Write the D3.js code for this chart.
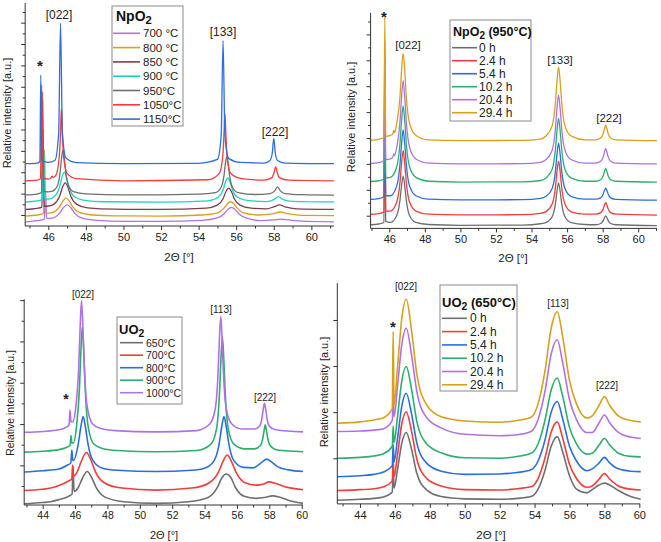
<!DOCTYPE html>
<html><head><meta charset="utf-8">
<script src="https://cdn.jsdelivr.net/npm/d3@7"></script>
<style>body{margin:0;background:#fff}svg{display:block;font-family:Arial,"Liberation Sans",sans-serif}</style>
</head><body><svg id="c" width="661" height="542"></svg>
<script>
// ---------- DATA ----------
const npTicks = [46,48,50,52,54,56,58,60];
const uoTicks = [44,46,48,50,52,54,56,58,60];
const npPeakNames = ["*","[022]","[133]","[222]"];
const uoPeakNames = ["*","[022]","[113]","[222]"];

const npTempLabels = ["700 °C","800 °C","850 °C","900 °C","950°C","1050°C","1150°C"];
const npTimeLabels = ["0 h","2.4 h","5.4 h","10.2 h","20.4 h","29.4 h"];
const uoTempLabels = ["650°C","700°C","800°C","900°C","1000°C"];
const uoTimeLabels = ["0 h","2.4 h","5.4 h","10.2 h","20.4 h","29.4 h"];

// NpO2, temperature series [2theta, intensity]
const npT700 = [[44.8,-3.2],[45.4,-2.6],[45.79,-2],[45.85,12],[45.91,-1.6],[46.2,-1.5],[46.6,0.85],[46.8,3.4],[47.0,4.7],[47.2,3.4],[47.4,0.85],[47.8,-1.5],[48.6,-2.55],[50,-3],[52,-3],[54.2,-2.5],[54.95,-1.5],[55.35,0.5],[55.55,2.5],[55.75,3.6],[55.95,2.5],[56.15,0.5],[56.55,-1.5],[57.3,-2.6],[58.0,-2.3],[58.4,-1.9],[58.8,-2.3],[59.5,-2.9],[61.2,-3.2]];
const npT800 = [[44.8,-0.5],[45.4,0],[45.74,0.6],[45.8,30.4],[45.86,1],[46.0,0.9],[46.25,1.2],[46.6,3.75],[46.78,6.5],[46.95,8],[47.12,6.5],[47.3,3.75],[47.65,1.2],[48.35,0],[49.5,-0.4],[52,-0.5],[54.2,0],[55.0,1],[55.35,3.2],[55.53,5.3],[55.7,6.2],[55.87,5.3],[56.05,3.2],[56.4,1],[57.2,0],[57.9,0.5],[58.35,1.4],[58.8,0.5],[59.5,-0.2],[61.2,-0.3]];
const npT850 = [[44.8,2.6],[45.4,3.1],[45.66,3.7],[45.72,40],[45.78,4.1],[46.0,4.2],[46.3,5.1],[46.6,8.8],[46.75,12.9],[46.9,15],[47.05,12.9],[47.2,8.8],[47.5,5.1],[48.1,3.3],[49.5,2.7],[52,2.6],[54.4,3.2],[55.0,4.6],[55.3,7.6],[55.45,10.9],[55.6,12.6],[55.75,10.9],[55.9,7.6],[56.2,4.6],[56.8,3.2],[57.6,2.9],[58.0,3.8],[58.3,4.7],[58.6,3.8],[59.2,2.9],[61.2,2.6]];
const npT900 = [[44.8,6.1],[45.4,6.6],[45.69,7.2],[45.75,32.8],[45.81,7.6],[46.0,7.4],[46.35,8.9],[46.6,13.1],[46.73,17.7],[46.85,20.1],[46.97,17.7],[47.1,13.1],[47.35,8.9],[47.85,7],[49,6.2],[52,6],[54.5,6.6],[55.05,8.4],[55.3,11.7],[55.43,15.4],[55.55,17.3],[55.67,15.4],[55.8,11.7],[56.05,8.4],[56.6,6.8],[57.6,6.3],[58.0,7.2],[58.25,8.6],[58.5,7.2],[59,6.4],[61.2,6.1]];
const npT950 = [[44.8,9.4],[45.4,9.8],[45.64,10.5],[45.7,57.6],[45.76,11],[46.0,10.8],[46.18,11],[46.48,13.6],[46.63,19.9],[46.71,26.8],[46.78,30.4],[46.85,26.8],[46.93,19.9],[47.08,13.6],[47.38,10.8],[48,9.9],[50,9.4],[54,9.8],[54.9,10.5],[55.2,13],[55.35,18.4],[55.43,24.3],[55.5,27.3],[55.57,24.3],[55.65,18.4],[55.8,13],[56.1,10.5],[57,9.6],[57.8,10],[58.05,11.3],[58.2,13.2],[58.35,11.3],[58.6,10],[59.5,9.5],[61.2,9.3]];
const npT1050 = [[44.8,16],[45.4,16.3],[45.58,17],[45.65,60.8],[45.72,17.5],[46.0,16.8],[46.15,17.5],[46.2,18.2],[46.25,17.5],[46.4,18.5],[46.58,27],[46.64,36],[46.7,50.1],[46.76,36],[46.82,27],[47.0,19.5],[47.5,17],[50,16],[54.5,16.5],[55.1,19.5],[55.28,27],[55.34,36],[55.4,47.7],[55.46,36],[55.52,27],[55.7,19.5],[56.3,17],[57.5,16.3],[57.9,17.5],[58.02,20],[58.1,22.6],[58.18,20],[58.3,17.5],[58.8,16.3],[61.2,16]];
const npT1150 = [[44.8,24],[45.4,24.3],[45.55,25],[45.6,65.5],[45.65,25.5],[46.0,24.6],[46.35,25.5],[46.55,38],[46.65,89.8],[46.75,38],[46.95,26.5],[47.5,24.5],[50,24],[54,24.2],[55.0,26],[55.2,37],[55.3,81.6],[55.4,37],[55.6,26.5],[56.2,24.6],[57.5,24.3],[57.8,25.5],[57.92,29],[58.0,35.9],[58.08,29],[58.2,25.5],[58.6,24.3],[61.2,24]];

// NpO2 (950°C), annealing-time series
const npH0 = [[44.95,-3.5],[45.4,-3.2],[45.7,-2.6],[45.75,43.3],[45.8,-2.2],[46.06,-2.6],[46.42,0.1],[46.6,5.8],[46.69,11.5],[46.78,15.3],[46.87,11.5],[46.96,5.8],[47.14,0.1],[47.5,-2.6],[48.2,-3.4],[50,-3.7],[53.5,-3.6],[54.5,-3.1],[54.8,-2.7],[55.16,-0.4],[55.34,4.5],[55.43,9.4],[55.52,12.7],[55.61,9.4],[55.7,4.5],[55.88,-0.4],[56.24,-2.7],[57,-3.4],[57.6,-3.5],[57.89,-3],[58.03,-1.9],[58.1,-0.8],[58.17,-0.1],[58.24,-0.8],[58.31,-1.9],[58.45,-3],[58.75,-3.5],[61.05,-3.8]];
const npH24 = [[44.95,0.5],[45.4,0.8],[45.7,1.4],[45.75,47.3],[45.8,1.8],[46.06,1.8],[46.42,5.3],[46.6,12.7],[46.69,20.1],[46.78,25.1],[46.87,20.1],[46.96,12.7],[47.14,5.3],[47.5,1.8],[48.2,0.6],[50,0.3],[53.5,0.4],[54.5,0.9],[54.8,1.5],[55.16,4.5],[55.34,10.7],[55.43,16.9],[55.52,21.1],[55.61,16.9],[55.7,10.7],[55.88,4.5],[56.24,1.5],[57,0.6],[57.6,0.6],[57.89,1.2],[58.03,2.6],[58.1,4],[58.17,5],[58.24,4],[58.31,2.6],[58.45,1.2],[58.75,0.6],[61.05,0.2]];
const npH54 = [[44.95,6.3],[45.4,6.6],[45.7,7.3],[45.75,53.1],[45.8,7.7],[46.06,7.7],[46.42,11.5],[46.6,19.6],[46.69,27.7],[46.78,33.1],[46.87,27.7],[46.96,19.6],[47.14,11.5],[47.5,7.7],[48.2,6.4],[50,6.1],[53.5,6.2],[54.5,6.7],[54.8,7.4],[55.16,10.5],[55.34,17],[55.43,23.6],[55.52,28],[55.61,23.6],[55.7,17],[55.88,10.5],[56.24,7.4],[57,6.4],[57.6,6.4],[57.89,6.9],[58.03,8.3],[58.1,9.7],[58.17,10.6],[58.24,9.7],[58.31,8.3],[58.45,6.9],[58.75,6.3],[61.05,6]];
const npH102 = [[44.95,13.2],[45.4,13.5],[45.7,14.2],[45.75,60],[45.8,14.6],[46.06,14.8],[46.42,18.9],[46.6,27.7],[46.69,36.5],[46.78,42.4],[46.87,36.5],[46.96,27.7],[47.14,18.9],[47.5,14.8],[48.2,13.3],[50,13],[53.5,13.1],[54.5,13.6],[54.8,14.5],[55.16,17.9],[55.34,25.3],[55.43,32.7],[55.52,37.6],[55.61,32.7],[55.7,25.3],[55.88,17.9],[56.24,14.5],[57,13.3],[57.6,13.3],[57.89,13.9],[58.03,15.4],[58.1,17],[58.17,18.3],[58.24,17],[58.31,15.4],[58.45,13.9],[58.75,13.3],[61.05,13]];
const npH204 = [[44.95,20.2],[45.4,20.5],[45.7,21.2],[45.75,67],[45.8,21.6],[46.06,21.9],[46.2,22.5],[46.25,24],[46.3,23.2],[46.42,26.4],[46.6,36],[46.69,45.7],[46.78,52.1],[46.87,45.7],[46.96,36],[47.14,26.4],[47.5,21.9],[48.2,20.3],[50,20],[53.5,20.1],[54.5,20.6],[54.8,21.6],[55.16,25.3],[55.34,33.3],[55.43,41.2],[55.52,46.5],[55.61,41.2],[55.7,33.3],[55.88,25.3],[56.24,21.6],[57,20.3],[57.6,20.3],[57.89,21],[58.03,22.7],[58.1,24.5],[58.17,26],[58.24,24.5],[58.31,22.7],[58.45,21],[58.75,20.3],[61.05,20]];
const npH294 = [[44.95,29.2],[45.4,29.5],[45.7,30.2],[45.75,76.8],[45.8,30.6],[46.06,31],[46.2,31.5],[46.25,33],[46.3,32],[46.42,35.7],[46.6,45.7],[46.69,56],[46.78,62.7],[46.87,56],[46.96,45.7],[47.14,35.7],[47.5,31],[48.2,29.3],[50,29],[53.5,29.1],[54.5,29.6],[54.8,30.7],[55.16,34.7],[55.34,43.3],[55.43,51.8],[55.52,57.5],[55.61,51.8],[55.7,43.3],[55.88,34.7],[56.24,30.7],[57,29.3],[57.6,29.3],[57.89,30],[58.03,31.7],[58.1,33.5],[58.17,35],[58.24,33.5],[58.31,31.7],[58.45,30],[58.75,29.3],[61.05,29]];

// UO2, temperature series
const uoT650 = [[42.86,-9.3],[44,-9],[44.5,-8.8],[45.0,-8.3],[45.6,-7.5],[45.82,-6.9],[45.88,-0.3],[45.94,-6.3],[46.2,-5.35],[46.47,-3],[46.75,-1.5],[47.03,-3],[47.3,-5.35],[47.85,-7.7],[49,-8.8],[51,-9.2],[53,-8.8],[54.25,-7.7],[54.8,-5.3],[55.07,-3],[55.35,-2.1],[55.63,-3],[55.9,-5.3],[56.45,-7.5],[57.2,-8],[57.7,-7.8],[58.2,-7.4],[58.7,-7.8],[59.4,-8.7],[60.08,-9.2]];
const uoT700 = [[42.86,-6.1],[44,-5.8],[44.5,-5.5],[45.0,-4.9],[45.6,-3.8],[45.8,-3.3],[45.85,0.1],[45.9,-2.6],[46.15,-1.45],[46.42,1.3],[46.7,3.1],[46.98,1.3],[47.25,-1.45],[47.8,-4.2],[48.9,-5.5],[51,-6],[53.2,-5.5],[54.3,-4.2],[54.85,-1.7],[55.12,0.8],[55.4,2.5],[55.68,0.8],[55.95,-1.7],[56.5,-4.2],[57.2,-4.8],[57.6,-4.6],[58.0,-4],[58.4,-4.4],[59.2,-5.4],[60.08,-5.9]];
const uoT800 = [[42.86,-1.6],[44,-1.3],[45,-0.9],[45.5,0],[45.74,0.6],[45.8,3.7],[45.86,1.2],[45.9,1.2],[46.2,5.2],[46.35,9.1],[46.5,11.8],[46.65,9.1],[46.8,5.2],[47.1,1.2],[47.7,-0.7],[48.6,-1.2],[51,-1.5],[53.2,-1.2],[54,-0.7],[54.6,1.2],[54.9,5.2],[55.05,9.1],[55.2,11.8],[55.35,9.1],[55.5,5.2],[55.8,1.2],[56.4,-0.5],[57,-0.6],[57.3,0],[57.55,0.8],[57.85,1.5],[58.15,0.8],[58.5,-0.3],[59.2,-1.1],[60.08,-1.5]];
const uoT900 = [[42.86,3.2],[44,3.4],[45,3.8],[45.5,4.4],[45.69,4.8],[45.75,7.2],[45.81,5.4],[45.9,5.4],[46.09,9.4],[46.27,18.5],[46.36,27.5],[46.45,33.6],[46.54,27.5],[46.63,18.5],[46.81,9.4],[47.17,5.1],[47.7,4.1],[48.6,3.6],[51,3.3],[53.5,3.6],[54.38,5.1],[54.74,8.9],[54.92,17.2],[55.01,25.5],[55.1,31.1],[55.19,25.5],[55.28,17.2],[55.46,8.9],[55.82,5.1],[56.5,4],[57.1,4],[57.45,4.8],[57.6,6.6],[57.68,8.5],[57.75,9.8],[57.82,8.5],[57.9,6.6],[58.05,4.8],[58.5,3.7],[60.08,3.3]];
const uoT1000 = [[42.86,8],[44,8.2],[45,8.6],[45.5,9.3],[45.63,9.8],[45.69,13.4],[45.75,10.5],[45.85,10.5],[46.06,14.5],[46.23,24],[46.315,33.5],[46.4,39.9],[46.485,33.5],[46.57,24],[46.74,14.5],[47.08,10],[47.6,8.9],[48.5,8.4],[51,8.1],[53.5,8.4],[54.32,10],[54.66,13.7],[54.83,22],[54.915,30.4],[55.0,36],[55.085,30.4],[55.17,22],[55.34,13.7],[55.68,10],[56.3,8.8],[57.1,8.8],[57.4,9.5],[57.55,11.5],[57.625,13.6],[57.7,15],[57.775,13.6],[57.85,11.5],[58.0,9.5],[58.4,8.6],[60.08,8.1]];

// UO2 (650°C), annealing-time series
const uoH0 = [[42.7,-9.1],[44,-8.9],[44.8,-8.7],[45.35,-8.4],[45.85,-7.3],[45.9,-2],[45.95,-6.5],[46.15,-2.4],[46.4,3.4],[46.65,5.6],[46.95,2],[47.25,-3.2],[47.8,-6.8],[48.65,-8.3],[50,-8.8],[52,-8.9],[53,-8.7],[53.8,-8.3],[54.2,-6.7],[54.6,-2.6],[54.95,2.6],[55.3,4.7],[55.6,1.5],[56.0,-3.8],[56.4,-6.7],[57.0,-7.5],[57.3,-6.8],[57.7,-5.8],[58.0,-5.4],[58.3,-5.8],[58.8,-7],[59.5,-8.3],[60.08,-8.9]];
const uoH24 = [[42.7,-7],[44,-6.8],[44.8,-6.6],[45.35,-6.2],[45.85,-4.9],[45.9,-0.5],[45.95,-4],[46.15,0.8],[46.4,7.6],[46.65,10.1],[46.95,5.9],[47.25,-0.1],[47.8,-4.3],[48.65,-6],[50,-6.8],[52,-6.9],[53,-6.6],[53.8,-6.2],[54.2,-4.4],[54.6,0.1],[54.95,5.7],[55.3,7.9],[55.6,4.5],[56.0,-1.3],[56.4,-4.4],[57.0,-6.3],[57.3,-6],[57.7,-4.5],[58.0,-3.3],[58.3,-4.5],[58.8,-6],[59.5,-6.7],[60.08,-6.9]];
const uoH54 = [[42.7,-4],[44,-3.8],[44.8,-3.5],[45.35,-3],[45.85,-1.6],[45.9,3],[45.95,-0.8],[46.15,4.3],[46.4,11.4],[46.65,14.1],[46.95,9.7],[47.25,3.4],[47.8,-1],[48.65,-2.8],[50,-3.5],[52,-3.4],[53,-3.1],[53.8,-2.5],[54.2,-0.6],[54.6,4],[54.95,10],[55.3,12.3],[55.6,8.7],[56.0,2.6],[56.4,-0.6],[57.0,-2.7],[57.3,-2.3],[57.7,-1],[58.0,0.2],[58.3,-1],[58.8,-2.3],[59.5,-2.8],[60.08,-2.9]];
const uoH102 = [[42.7,0],[44,0.2],[44.8,0.5],[45.35,1],[45.85,2.6],[45.9,7],[45.95,3.4],[46.15,9.1],[46.4,16.9],[46.65,19.9],[46.95,15],[47.25,8.1],[47.8,3.2],[48.65,1.2],[50,0.1],[52,0],[53,0.4],[53.8,1.1],[54.2,3.1],[54.6,8.3],[54.95,14.8],[55.3,17.4],[55.6,13.6],[56.0,6.7],[56.4,3.1],[57.0,0.9],[57.3,1.1],[57.7,2.9],[58.0,4.3],[58.3,2.9],[58.8,1.1],[59.5,0.4],[60.08,0.3]];
const uoH204 = [[42.7,5.8],[44,5.9],[44.8,6.1],[45.35,6.4],[45.85,8.2],[45.9,13],[45.95,9],[46.15,15.7],[46.4,24.8],[46.65,28.2],[46.95,22.5],[47.25,14.6],[47.8,8.9],[48.65,6.6],[50,5.2],[52,4.9],[53,5.1],[53.8,5.8],[54.2,8.4],[54.6,14.6],[54.95,22.6],[55.3,25.7],[55.6,20.9],[56.0,12.7],[56.4,8.4],[57.0,5.6],[57.3,5.6],[57.7,7.7],[58.0,9.4],[58.3,7.7],[58.8,5.6],[59.5,4.6],[60.08,4.3]];
const uoH294 = [[42.7,7.6],[44,7.9],[44.8,8.3],[45.35,8.8],[45.85,10.7],[45.9,27.5],[45.95,11.5],[46.15,19.8],[46.4,30.5],[46.65,34.5],[46.95,27.8],[47.25,18.4],[47.8,11.7],[48.65,9],[50,8.1],[52,7.8],[53,8.2],[53.8,8.9],[54.2,11.8],[54.6,19],[54.95,28.2],[55.3,31.8],[55.6,26.6],[56.0,16.9],[56.4,11.8],[57.0,8.7],[57.3,9.2],[57.7,11.5],[58.0,13.4],[58.3,11.5],[58.8,9.2],[59.5,8.2],[60.08,7.9]];

// ---------- STYLE / LAYOUT ----------
const C = {purple:"#b071e6", gold:"#d6a11c", maroon:"#7d3d4e", cyan:"#1fd2c6", gray:"#6f6f6f", red:"#f23d3d", blue:"#2b6fde", green:"#2eae6c"};
const npTempColors = [C.purple,C.gold,C.maroon,C.cyan,C.gray,C.red,C.blue];
const timeColors = [C.gray,C.red,C.blue,C.green,C.purple,C.gold];
const uoTempColors = [C.gray,C.red,C.blue,C.green,C.purple];

const panels = [
 {xd:[44.77,61.2], xr:[25.2,333.9], yd:[-5.15,99.2], yr:[226,3], xt:npTicks, xm:[45,47,49,51,53,55,57,59,61],
  ymaj:d3.range(0,91,10), ymin:d3.range(5,96,10), sw:1.3,
  series:[npT700,npT800,npT850,npT900,npT950,npT1050,npT1150], labels:npTempLabels, colors:npTempColors,
  leg:{x:112,y:6,w:71,h:120,tx:116,ty:16,title:"NpO",sub:"2",rest:"",tfs:14,ey:33.3,dy:14.3,lx0:113,lx1:140,txx:143,fs:11.5},
  peaks:npPeakNames, pk:[[40,63,15],[59,15,12],[223,32,12],[275,132,12]],
  ylab:[7,113,11], xlab:[179,257,11.5], tfs:11},
 {xd:[44.95,61.05], xr:[370.6,656.9], yd:[-4.9,78.3], yr:[228.4,12.9], xt:npTicks, xm:[45,47,49,51,53,55,57,59,61],
  ymaj:d3.range(0,71,10), ymin:d3.range(5,76,10), sw:1.3,
  series:[npH0,npH24,npH54,npH102,npH204,npH294], labels:npTimeLabels, colors:timeColors,
  leg:{x:450,y:20,w:81,h:101,tx:453,ty:31.7,title:"NpO",sub:"2",rest:" (950°C)",tfs:12.5,ey:47.7,dy:13,lx0:452,lx1:477,txx:479,fs:12},
  peaks:npPeakNames, pk:[[384,14,15],[408,45,11.5],[560,60,11.5],[609,118,11.5]],
  ylab:[351,117,11], xlab:[513,258,11.5], tfs:11},
 {xd:[42.86,60.08], xr:[24.2,303], yd:[-9.6,40.2], yr:[505,299.3], xt:uoTicks, xm:[43,45,47,49,51,53,55,57,59],
  ymaj:d3.range(0,41,10), ymin:d3.range(-5,36,10), sw:1.6,
  series:[uoT650,uoT700,uoT800,uoT900,uoT1000], labels:uoTempLabels, colors:uoTempColors,
  leg:{x:117,y:317,w:65,h:87,tx:119,ty:329,title:"UO",sub:"2",rest:"",tfs:13,ey:342.7,dy:12.5,lx0:120,lx1:143,txx:146,fs:10.5},
  peaks:uoPeakNames, pk:[[66,396,14],[83,294,10],[221,309,10],[265,397,10]],
  ylab:[10,403,10.5], xlab:[164,535,11], tfs:10.5},
 {xd:[42.7,60.05], xr:[337.3,640.2], yd:[-9.9,38], yr:[503.9,283.1], xt:uoTicks, xm:[43,45,47,49,51,53,55,57,59],
  ymaj:d3.range(0,31,10), ymin:[], sw:1.6,
  series:[uoH0,uoH24,uoH54,uoH102,uoH204,uoH294], labels:uoTimeLabels, colors:timeColors,
  leg:{x:440,y:285,w:77,h:106,tx:442,ty:302,title:"UO",sub:"2",rest:" (650°C)",tfs:13,ey:318.3,dy:13.3,lx0:442,lx1:467,txx:470,fs:12},
  peaks:uoPeakNames, pk:[[393,324,15],[406,286,10],[558,303,10],[607,385,10]],
  ylab:[324,392,11], xlab:[491,535,11.5], tfs:11}
];

// ---------- DRAW ----------
const svg = d3.select("#c");
const axisCol = "#333";

panels.forEach(p => {
  const x = d3.scaleLinear().domain(p.xd).range(p.xr);
  const y = d3.scaleLinear().domain(p.yd).range(p.yr);
  const g = svg.append("g");

  const line = d3.line().x(d => x(d[0])).y(d => y(d[1])).curve(d3.curveMonotoneX);
  p.series.forEach((s, i) => {
    g.append("path").attr("d", line(s)).attr("fill","none")
     .attr("stroke", p.colors[i]).attr("stroke-width",p.sw).attr("stroke-linejoin","round");
  });

  const y0 = p.yr[0];
  const xa = g.append("g").attr("transform",`translate(0,${y0})`)
    .call(d3.axisBottom(x).tickValues(p.xt).tickSize(4).tickPadding(3).tickFormat(d3.format("d")));
  const xm = g.append("g").attr("transform",`translate(0,${y0})`)
    .call(d3.axisBottom(x).tickValues(p.xm).tickSize(2.5).tickFormat(""));
  const x0 = p.xr[0];
  const ya = g.append("g").attr("transform",`translate(${x0},0)`)
    .call(d3.axisLeft(y).tickValues(p.ymaj).tickSize(4).tickFormat(""));
  const ym = g.append("g").attr("transform",`translate(${x0},0)`)
    .call(d3.axisLeft(y).tickValues(p.ymin).tickSize(2.5).tickFormat(""));
  [xa,xm,ya,ym].forEach(a => {
    a.select(".domain").attr("stroke",axisCol).attr("stroke-width",1);
    a.selectAll(".tick line").attr("stroke",axisCol);
    a.selectAll("text").attr("fill","#222").style("font-size",p.tfs+"px").style("font-family","Arial, 'Liberation Sans', sans-serif");
  });
  xm.select(".domain").remove(); ym.select(".domain").remove();
  xa.select(".domain").attr("d",`M${p.xr[0]},0H${p.xr[1]}`);
  ya.select(".domain").attr("d",`M0,${p.yr[0]}V${p.yr[1]}`);

  g.append("text").attr("x",p.xlab[0]).attr("y",p.xlab[1]).attr("text-anchor","middle")
   .attr("dominant-baseline","central").style("font-size",p.xlab[2]+"px").attr("fill","#222").text("2Θ [°]");
  g.append("text").attr("transform",`translate(${p.ylab[0]},${p.ylab[1]}) rotate(-90)`).attr("text-anchor","middle")
   .attr("dominant-baseline","central").style("font-size",p.ylab[2]+"px").attr("fill","#222").text("Relative intensity [a.u.]");

  p.peaks.forEach((t, i) => {
    const [px, py, fs] = p.pk[i];
    const star = t === "*";
    g.append("text").attr("x",px).attr("y", star ? py + fs*0.55 : py)
     .attr("text-anchor","middle").attr("dominant-baseline", star ? "auto" : "central")
     .style("font-size",fs+"px").style("font-weight", star ? "bold" : "normal").attr("fill","#222").text(t);
  });

  const L = p.leg;
  g.append("rect").attr("x",L.x).attr("y",L.y).attr("width",L.w).attr("height",L.h)
   .attr("fill","#fff").attr("stroke","#8a8a8a").attr("stroke-width",1);
  const tt = g.append("text").attr("x",L.tx).attr("y",L.ty).attr("dominant-baseline","central")
   .style("font-size",L.tfs+"px").style("font-weight","bold").attr("fill","#111");
  tt.append("tspan").text(L.title);
  tt.append("tspan").attr("dy",L.tfs*0.3).style("font-size",(L.tfs*0.8)+"px").text(L.sub);
  if (L.rest) tt.append("tspan").attr("dy",-L.tfs*0.3).text(L.rest);
  p.labels.forEach((lab, i) => {
    const ly = L.ey + i*L.dy;
    g.append("line").attr("x1",L.lx0).attr("x2",L.lx1).attr("y1",ly).attr("y2",ly)
     .attr("stroke",p.colors[i]).attr("stroke-width",1.6);
    g.append("text").attr("x",L.txx).attr("y",ly).attr("dominant-baseline","central")
     .style("font-size",L.fs+"px").attr("fill","#222").text(lab);
  });
});
</script></body></html>
